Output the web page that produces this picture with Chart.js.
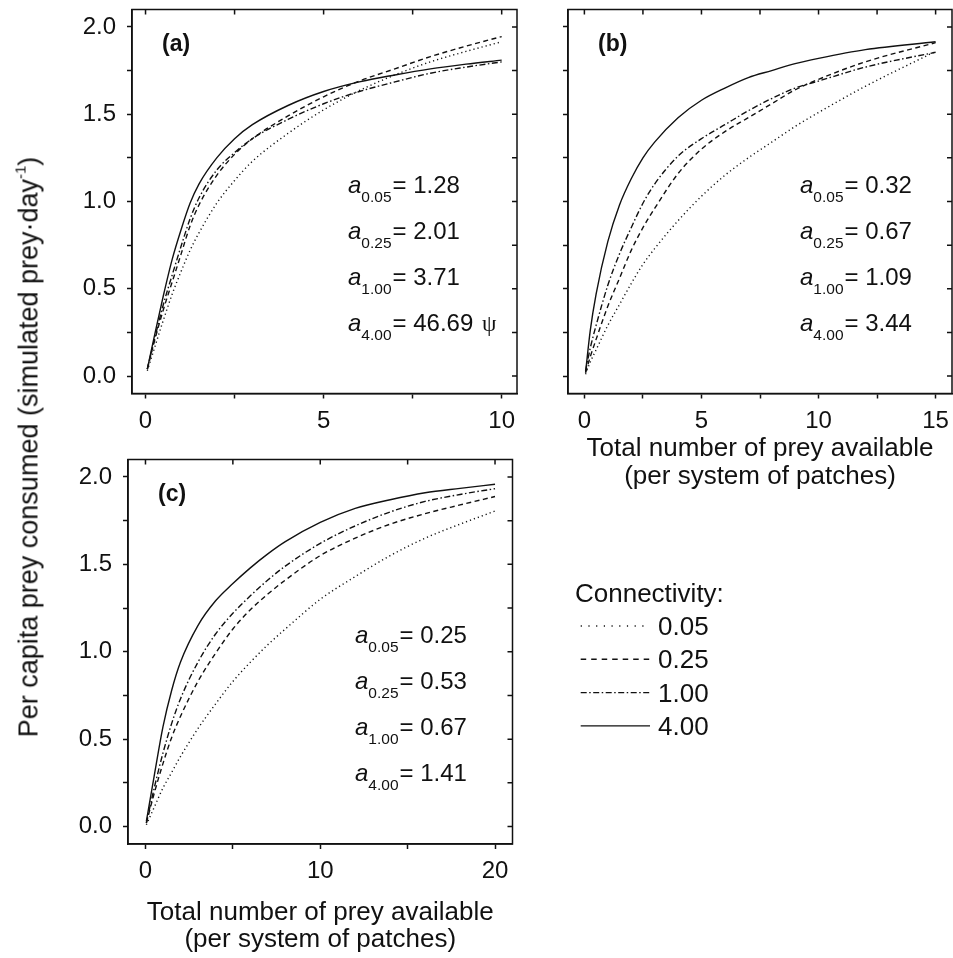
<!DOCTYPE html>
<html>
<head>
<meta charset="utf-8">
<script src="https://cdn.jsdelivr.net/npm/chart.js@4.4.1/dist/chart.umd.min.js"></script>
<style>
  html, body { margin: 0; padding: 0; background: #fff; }
  #wrap { position: relative; width: 953px; height: 958px; overflow: hidden; }
  canvas { position: absolute; }
  #ytitle {
    position: absolute; left: 29px; top: 447px;
    transform: translate(-50%, -50%) rotate(-90deg);
    white-space: nowrap; color: #111;
    font: 27px "Liberation Sans", Arial, sans-serif;
  }
  #ytitle sup { font-size: 15px; vertical-align: 12px; line-height: 0; }
</style>
</head>
<body>
<div id="wrap">
  <canvas id="chartA" width="530" height="450" style="left:0;top:0"></canvas>
  <canvas id="chartB" width="517" height="500" style="left:436px;top:0"></canvas>
  <canvas id="chartC" width="953" height="508" style="left:0;top:450px"></canvas>
  <div id="ytitle">Per capita prey consumed (simulated prey·day<sup>-1</sup>)</div>
</div>
<script>
// connectivity levels (legend + subscripts)
const connLevels = ['0.05', '0.25', '1.00', '4.00'];

// panel (a)
const preyA = [0.05, 0.25, 0.5, 0.75, 1, 1.25, 1.5, 2, 2.5, 3, 4, 5, 6, 7, 8, 9, 10];
const consA005 = [0.03, 0.16, 0.32, 0.47, 0.60, 0.72, 0.82, 0.99, 1.12, 1.23, 1.39, 1.525, 1.635, 1.725, 1.80, 1.86, 1.915];
const consA025 = [0.04, 0.20, 0.38, 0.54, 0.70, 0.86, 0.98, 1.15, 1.27, 1.36, 1.49, 1.60, 1.69, 1.76, 1.83, 1.89, 1.945];
const consA100 = [0.04, 0.21, 0.41, 0.58, 0.745, 0.90, 1.02, 1.18, 1.28, 1.36, 1.47, 1.56, 1.63, 1.685, 1.735, 1.77, 1.80];
const consA400 = [0.04, 0.23, 0.46, 0.67, 0.84, 0.99, 1.10, 1.25, 1.36, 1.44, 1.55, 1.63, 1.685, 1.725, 1.76, 1.787, 1.81];
const attackA = ['1.28', '2.01', '3.71', '46.69 \u03C8'];

// panel (b)
const preyB = [0.05, 0.25, 0.5, 1, 1.5, 2, 2.5, 3, 4, 5, 6, 7, 8, 9, 10, 12, 15];
const consB005 = [0.01, 0.08, 0.15, 0.29, 0.41, 0.53, 0.64, 0.73, 0.89, 1.03, 1.15, 1.25, 1.34, 1.43, 1.51, 1.66, 1.86];
const consB025 = [0.02, 0.11, 0.21, 0.40, 0.56, 0.72, 0.85, 0.96, 1.16, 1.30, 1.40, 1.48, 1.56, 1.64, 1.70, 1.80, 1.91];
const consB100 = [0.03, 0.16, 0.29, 0.52, 0.70, 0.85, 0.99, 1.10, 1.26, 1.36, 1.44, 1.52, 1.59, 1.65, 1.69, 1.77, 1.855];
const consB400 = [0.02, 0.26, 0.47, 0.77, 0.98, 1.13, 1.25, 1.34, 1.48, 1.58, 1.65, 1.71, 1.75, 1.79, 1.82, 1.87, 1.915];
const attackB = ['0.32', '0.67', '1.09', '3.44'];

// panel (c)
const preyC = [0.05, 0.5, 1, 1.5, 2, 3, 4, 5, 6, 7, 8, 10, 12, 14, 16, 18, 20];
const consC005 = [0.01, 0.11, 0.22, 0.31, 0.40, 0.56, 0.70, 0.83, 0.94, 1.04, 1.13, 1.30, 1.43, 1.55, 1.65, 1.73, 1.805];
const consC025 = [0.02, 0.19, 0.36, 0.51, 0.63, 0.83, 0.99, 1.13, 1.24, 1.33, 1.41, 1.55, 1.65, 1.73, 1.79, 1.84, 1.888];
const consC100 = [0.02, 0.22, 0.42, 0.59, 0.73, 0.94, 1.10, 1.22, 1.32, 1.41, 1.49, 1.62, 1.72, 1.80, 1.86, 1.90, 1.933];
const consC400 = [0.03, 0.29, 0.57, 0.78, 0.94, 1.15, 1.29, 1.39, 1.48, 1.56, 1.63, 1.74, 1.82, 1.87, 1.91, 1.935, 1.958];
const attackC = ['0.25', '0.53', '0.67', '1.41'];

// axis ticks
const yTicks = [0, 0.25, 0.5, 0.75, 1, 1.25, 1.5, 1.75, 2];
const xTicksA = [0, 2.5, 5, 7.5, 10];
const xTicksB = [0, 2.5, 5, 7.5, 10, 12.5, 15];
const xTicksC = [0, 5, 10, 15, 20];
const xTitle = ['Total number of prey available', '(per system of patches)'];

const FONT = '"Liberation Sans", Arial, sans-serif';
const INK = '#111';
const dashes = [[1.2, 3], [5, 3.5], [6, 2.5, 1.5, 2.5], []];

function series(prey, lists) {
  return lists.map((ys, i) => ({
    label: connLevels[i],
    data: prey.map((x, k) => ({ x: x, y: ys[k] })),
    borderColor: INK,
    borderWidth: 1.4,
    borderDash: dashes[i],
    pointRadius: 0,
    showLine: true,
    cubicInterpolationMode: 'monotone',
    fill: false
  }));
}

// box, mirrored inward ticks on top/right, panel tag, fitted a values
const framePlugin = {
  id: 'frame',
  afterDraw(chart, args, opts) {
    const { ctx, chartArea: ca, scales: { x, y } } = chart;
    ctx.save();
    ctx.strokeStyle = INK;
    ctx.lineWidth = 1.5;
    ctx.strokeRect(ca.left, ca.top, ca.right - ca.left, ca.bottom - ca.top);
    ctx.beginPath();
    x.ticks.forEach(t => {
      const px = x.getPixelForValue(t.value);
      ctx.moveTo(px, ca.top); ctx.lineTo(px, ca.top + 5);
    });
    y.ticks.forEach(t => {
      const py = y.getPixelForValue(t.value);
      ctx.moveTo(ca.right, py); ctx.lineTo(ca.right - 5, py);
    });
    ctx.stroke();

    ctx.fillStyle = INK;
    ctx.textBaseline = 'alphabetic';
    ctx.font = 'bold 23px ' + FONT;
    ctx.fillText(opts.tag, ca.left + 30, ca.top + 41);

    opts.values.forEach((v, i) => {
      let tx = ca.left + opts.noteX;
      const ty = ca.top + 183.5 + i * 46;
      ctx.font = 'italic 24px ' + FONT;
      ctx.fillText('a', tx, ty);
      tx += ctx.measureText('a').width;
      ctx.font = '15.5px ' + FONT;
      ctx.fillText(connLevels[i], tx, ty + 8.5);
      tx += ctx.measureText(connLevels[i]).width + 1;
      const parts = v.split(' \u03C8');
      ctx.font = '24px ' + FONT;
      ctx.fillText('= ' + parts[0], tx, ty);
      if (parts.length > 1) {
        tx += ctx.measureText('= ' + parts[0] + ' ').width + 2;
        ctx.font = '23px "Liberation Serif", "DejaVu Serif", serif';
        ctx.fillText('\u03C8', tx, ty);
      }
    });
    ctx.restore();
  }
};

// legend drawn to the right of panel (c)
const legendPlugin = {
  id: 'connLegend',
  afterDraw(chart, args, opts) {
    if (!opts.show) return;
    const { ctx, chartArea: ca } = chart;
    const x0 = ca.right + 62.5;
    ctx.save();
    ctx.fillStyle = INK;
    ctx.strokeStyle = INK;
    ctx.font = '26px ' + FONT;
    ctx.textBaseline = 'alphabetic';
    ctx.fillText('Connectivity:', x0, ca.top + 142);
    chart.data.datasets.forEach((ds, i) => {
      const ly = ca.top + 166.5 + i * 33.3;
      ctx.lineWidth = ds.borderWidth;
      ctx.setLineDash(i === 0 ? [1.2, 6.5] : i === 1 ? [5.5, 5] : ds.borderDash);
      ctx.beginPath();
      ctx.moveTo(x0 + 5.7, ly);
      ctx.lineTo(x0 + 75, ly);
      ctx.stroke();
      ctx.setLineDash([]);
      ctx.fillText(ds.label, x0 + 83, ly + 9);
    });
    ctx.restore();
  }
};

function isMultiple(v, step) {
  return Math.abs(v / step - Math.round(v / step)) < 1e-9;
}

function makeChart(id, cfg) {
  return new Chart(document.getElementById(id), {
    type: 'scatter',
    data: { datasets: series(cfg.prey, cfg.lists) },
    options: {
      responsive: false,
      animation: false,
      layout: { padding: cfg.padding },
      plugins: {
        legend: { display: false },
        tooltip: { enabled: false },
        frame: { tag: cfg.tag, values: cfg.values, noteX: cfg.noteX },
        connLegend: { show: !!cfg.legend }
      },
      scales: {
        x: {
          type: 'linear',
          min: cfg.xMin, max: cfg.xMax,
          afterBuildTicks: s => { s.ticks = cfg.xTicks.map(v => ({ value: v })); },
          ticks: {
            callback: v => isMultiple(v, cfg.xMajor) ? String(v) : '',
            font: { size: 24, family: FONT }, color: INK, padding: 8, maxRotation: 0, autoSkip: false
          },
          grid: { drawOnChartArea: false, drawTicks: true, tickLength: 5, tickColor: INK, tickWidth: 1.5 },
          border: { display: true, color: INK, width: 1.5 },
          title: cfg.xTitle ? {
            display: true, text: xTitle, color: INK,
            font: { size: 26, family: FONT, lineHeight: 1.05 },
            padding: { top: 0, bottom: cfg.titlePad }
          } : { display: false },
          afterFit: s => { s.height = cfg.xHeight; s.paddingLeft = 0; s.paddingRight = 0; }
        },
        y: {
          type: 'linear',
          min: -0.1, max: 2.1,
          afterBuildTicks: s => { s.ticks = yTicks.map(v => ({ value: v })); },
          ticks: {
            callback: v => (cfg.yLabels && isMultiple(v, 0.5)) ? v.toFixed(1) : '',
            font: { size: 24, family: FONT }, color: INK, padding: 11, autoSkip: false
          },
          grid: { drawOnChartArea: false, drawTicks: true, tickLength: 5, tickColor: INK, tickWidth: 1.5 },
          border: { display: true, color: INK, width: 1.5 },
          afterFit: s => { s.width = cfg.yWidth; s.paddingTop = 0; s.paddingBottom = 0; }
        }
      }
    },
    plugins: [framePlugin, legendPlugin]
  });
}

makeChart('chartA', {
  prey: preyA, lists: [consA005, consA025, consA100, consA400],
  tag: '(a)', values: attackA, noteX: 216,
  xMin: -0.38, xMax: 10.43, xTicks: xTicksA, xMajor: 5,
  padding: { left: 0, top: 9.5, right: 13, bottom: 0 },
  yWidth: 132, xHeight: 56.5, yLabels: true
});

makeChart('chartB', {
  prey: preyB, lists: [consB005, consB025, consB100, consB400],
  tag: '(b)', values: attackB, noteX: 232,
  xMin: -0.7, xMax: 15.7, xTicks: xTicksB, xMajor: 5,
  padding: { left: 0, top: 9.5, right: 1, bottom: 0 },
  yWidth: 132, xHeight: 106.5, yLabels: false,
  xTitle: true, titlePad: 10
});

makeChart('chartC', {
  prey: preyC, lists: [consC005, consC025, consC100, consC400],
  tag: '(c)', values: attackC, noteX: 227,
  xMin: -1, xMax: 21, xTicks: xTicksC, xMajor: 10,
  padding: { left: 0, top: 9.5, right: 440.5, bottom: 0 },
  yWidth: 128, xHeight: 114, yLabels: true,
  xTitle: true, titlePad: 4.5, legend: true
});
</script>
</body>
</html>
